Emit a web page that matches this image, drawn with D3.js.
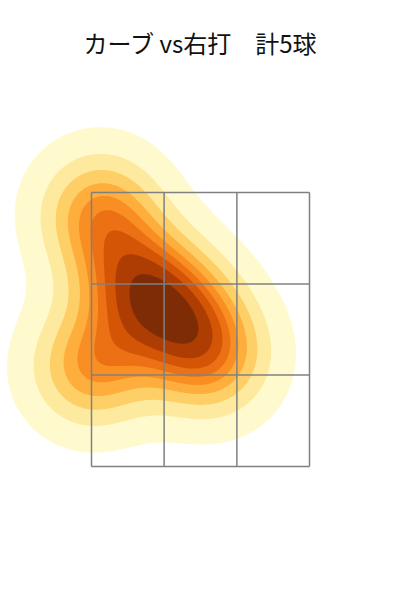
<!DOCTYPE html>
<html><head><meta charset="utf-8">
<script src="https://cdn.jsdelivr.net/npm/d3@7"></script>
<style>body{margin:0;background:#fff}</style>
</head><body>
<svg id="c" width="400" height="600"></svg>
<script>
const title = "カーブ vs右打　計5球";
// pitch locations (plate x in ft, height in ft)
const pitchX = [-0.655, -0.43, -0.15, -0.71, 0.06];
const pitchZ = [3.36, 2.86, 2.64, 2.22, 2.29];
const zoneX = [-0.71, -0.237, 0.237, 0.71];
const zoneZ = [1.5, 2.167, 2.833, 3.5];
const isoProps = d3.range(10).map(i => 0.05 + i * 0.95 / 9);

const svg = d3.select("#c");
const x = d3.scaleLinear().domain([-0.71, 0.71]).range([91.5, 309.5]);
const y = d3.scaleLinear().domain([1.5, 3.5]).range([466.5, 192.5]);

// Gaussian KDE on a grid, iso-proportion contour levels
const pts = pitchX.map((v, i) => [x(v), y(pitchZ[i])]);
const bw = 43;
const cs = 2, x0 = -200, y0 = -200, nx = 400, ny = 500;
const grid = new Float64Array(nx * ny);
for (let j = 0; j < ny; j++) {
  const py = y0 + (j + 0.5) * cs;
  for (let i = 0; i < nx; i++) {
    const px = x0 + (i + 0.5) * cs;
    let s = 0;
    for (const [a, b] of pts) {
      const dx = px - a, dy = py - b;
      s += Math.exp(-(dx * dx + dy * dy) / (2 * bw * bw));
    }
    grid[j * nx + i] = s;
  }
}
const sorted = Array.from(grid).sort((a, b) => b - a);
const total = d3.sum(sorted);
const cum = [];
let acc = 0;
for (const v of sorted) { acc += v; cum.push(acc / total); }
const levels = isoProps.map(p => sorted[Math.min(sorted.length - 1, d3.bisectLeft(cum, 1 - p))]);

const ramp = d3.scaleLinear().domain(d3.range(9).map(i => i / 8)).range(d3.schemeYlOrBr[9]);
const L0 = levels[0], L9 = levels[levels.length - 1];
const bandColor = i => ramp(((levels[i] + levels[i + 1]) / 2 - L0) / (L9 - L0));

const contours = d3.contours().size([nx, ny]).thresholds(levels.slice(0, 9))(grid);
svg.append("g").attr("transform", `translate(${x0},${y0}) scale(${cs})`)
  .selectAll("path").data(contours).join("path")
  .attr("d", d3.geoPath()).attr("fill", (d, i) => bandColor(i));

const g = svg.append("g").attr("stroke", "#808080").attr("stroke-width", 1.5).attr("fill", "none");
zoneX.forEach(v => g.append("line").attr("x1", x(v)).attr("x2", x(v)).attr("y1", y(zoneZ[0])).attr("y2", y(zoneZ[3])));
zoneZ.forEach(v => g.append("line").attr("x1", x(zoneX[0])).attr("x2", x(zoneX[3])).attr("y1", y(v)).attr("y2", y(v)));

svg.append("text").attr("x", 200).attr("y", 53).attr("text-anchor", "middle")
  .attr("font-family", "'Noto Sans CJK JP', sans-serif").attr("font-size", 24).attr("fill", "#111")
  .text(title);
</script>
</body></html>
